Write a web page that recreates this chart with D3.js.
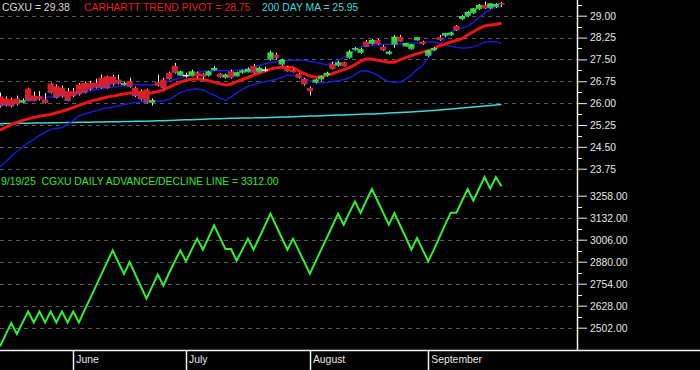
<!DOCTYPE html>
<html><head><meta charset="utf-8">
<script src="https://cdn.jsdelivr.net/npm/d3@7"></script>
<style>html,body{margin:0;padding:0;background:#000;}svg{display:block;}</style>
</head><body>
<script>
// ---------- DATA ----------
const symbol = "CGXU";
const lastClose = 29.38;
const pivotLast = 28.75;
const maLast = 25.95;
const adLast = 3312.00;
const adDate = "9/19/25";

const months = ["June", "July", "August", "September"];
const monthStartIdx = [13, 33, 55, 76];

const priceTicks = [29.00, 28.25, 27.50, 26.75, 26.00, 25.25, 24.50, 23.75];
const adTicks = [3258, 3132, 3006, 2880, 2754, 2628, 2502];

const open = [26.23,26.16,26.13,26.16,26.01,26.50,26.26,26.24,26.13,26.67,26.58,26.53,26.41,26.41,26.64,26.69,26.69,26.70,26.87,26.92,26.91,26.81,26.62,26.75,26.53,26.41,26.47,26.01,26.72,26.81,27.04,27.28,26.94,26.97,26.92,27.04,27.01,26.94,27.12,27.01,26.87,27.09,26.92,27.04,27.06,27.28,27.06,27.16,27.49,27.66,27.32,27.24,27.15,27.01,26.83,26.52,26.70,26.81,26.94,27.35,27.28,27.40,27.55,27.83,27.72,28.11,28.03,28.17,27.94,27.68,28.00,28.28,27.94,27.85,28.15,28.11,27.62,27.81,28.26,28.31,28.33,28.65,28.88,28.99,29.08,29.22,29.37,29.25,29.30,29.44];
const high = [26.36,26.23,26.19,26.26,26.16,26.53,26.40,26.41,26.35,26.70,26.64,26.60,26.52,26.52,26.69,26.74,26.77,26.84,26.98,26.94,26.98,26.98,26.74,26.87,26.57,26.47,26.50,26.16,26.98,26.87,27.08,27.38,27.11,27.05,27.15,27.08,27.04,27.11,27.28,27.04,27.01,27.15,27.08,27.15,27.22,27.35,27.25,27.25,27.80,27.73,27.52,27.28,27.18,27.04,26.87,26.57,26.84,26.94,27.08,27.42,27.45,27.42,27.83,27.93,27.90,28.17,28.20,28.20,28.00,27.80,28.34,28.34,28.07,28.03,28.27,28.14,27.83,27.93,28.34,28.41,28.44,28.68,29.02,29.16,29.26,29.40,29.48,29.43,29.43,29.47];
const low = [25.85,25.89,25.85,25.92,25.99,26.06,26.06,26.09,25.99,26.33,26.16,26.19,26.06,26.21,26.26,26.33,26.43,26.50,26.50,26.50,26.60,26.64,26.60,26.53,26.21,26.09,25.99,25.92,26.57,26.50,26.81,27.01,26.93,26.87,26.91,26.87,26.81,26.91,27.11,26.87,26.84,26.84,26.91,27.01,27.05,27.01,27.05,27.08,27.45,27.49,27.28,27.08,27.05,26.84,26.60,26.26,26.67,26.77,26.91,27.15,27.25,27.25,27.52,27.80,27.69,27.93,28.00,28.00,27.79,27.66,27.90,28.10,27.93,27.83,28.14,28.00,27.59,27.79,28.14,28.27,28.31,28.48,28.85,28.96,29.06,29.19,29.23,29.23,29.26,29.30];
const close = [25.89,25.92,25.89,25.96,26.10,26.07,26.07,26.13,26.01,26.35,26.18,26.23,26.07,26.24,26.30,26.35,26.47,26.53,26.52,26.52,26.64,26.67,26.69,26.56,26.24,26.13,26.01,26.10,26.60,26.52,26.83,27.04,27.09,26.95,27.09,26.92,26.91,27.09,27.21,26.90,26.98,26.87,27.06,27.12,27.17,27.04,27.21,27.14,27.74,27.55,27.49,27.09,27.06,26.87,26.64,26.41,26.81,26.92,27.04,27.17,27.40,27.26,27.77,27.89,27.85,27.94,28.17,28.03,27.81,27.77,28.28,28.11,28.06,28.02,28.26,28.03,27.81,27.89,28.17,28.40,28.42,28.49,28.99,29.13,29.25,29.37,29.25,29.42,29.40,29.38];

const pivot = [25.07,25.17,25.26,25.34,25.41,25.46,25.51,25.55,25.58,25.61,25.67,25.72,25.78,25.85,25.92,25.99,26.06,26.11,26.16,26.21,26.24,26.28,26.31,26.35,26.35,26.35,26.35,26.36,26.40,26.45,26.55,26.64,26.72,26.79,26.82,26.84,26.81,26.77,26.72,26.67,26.62,26.65,26.74,26.81,26.88,26.96,27.03,27.10,27.17,27.21,27.23,27.24,27.22,27.11,27.01,26.93,26.89,26.91,26.96,27.01,27.08,27.15,27.22,27.32,27.44,27.51,27.51,27.47,27.44,27.40,27.40,27.49,27.56,27.63,27.69,27.75,27.80,27.86,27.97,28.03,28.10,28.15,28.21,28.34,28.45,28.56,28.65,28.68,28.70,28.75];

const bandSlow = [25.92,25.94,25.97,26.02,26.07,26.10,26.13,26.16,26.19,26.21,26.25,26.29,26.32,26.35,26.37,26.40,26.43,26.46,26.49,26.52,26.55,26.57,26.60,26.62,26.64,26.63,26.62,26.62,26.64,26.67,26.76,26.81,26.86,26.93,26.99,27.05,27.09,27.10,27.11,27.11,27.11,27.11,27.13,27.15,27.19,27.23,27.29,27.35,27.39,27.42,27.45,27.46,27.47,27.47,27.46,27.44,27.40,27.36,27.32,27.39,27.46,27.57,27.69,27.81,27.92,27.95,27.98,28.00,28.02,28.02,28.03,28.04,28.05,28.06,28.07,28.09,28.10,28.10,28.05,28.00,27.95,27.92,27.89,27.90,27.93,28.00,28.09,28.11,28.11,28.05];

const bandFast = [23.81,23.98,24.18,24.35,24.49,24.64,24.76,24.89,25.00,25.10,25.13,25.16,25.27,25.41,25.55,25.63,25.68,25.74,25.79,25.83,25.87,25.90,25.95,25.99,26.02,26.05,26.06,26.07,26.07,26.07,26.13,26.24,26.36,26.43,26.47,26.49,26.45,26.36,26.28,26.18,26.09,26.21,26.35,26.47,26.57,26.64,26.69,26.73,26.77,26.82,26.89,26.96,26.96,26.91,26.85,26.77,26.70,26.70,26.71,26.74,26.77,26.81,26.86,26.98,27.10,27.11,27.05,26.96,26.82,26.74,26.72,26.72,26.82,26.96,27.15,27.30,27.57,27.80,27.98,28.25,28.44,28.53,28.58,28.64,28.77,28.94,29.09,29.21,29.30,29.30];

const ma200 = [25.296,25.300,25.303,25.307,25.307,25.310,25.314,25.317,25.320,25.324,25.327,25.331,25.334,25.338,25.341,25.344,25.348,25.351,25.355,25.358,25.361,25.365,25.368,25.372,25.375,25.378,25.382,25.385,25.392,25.399,25.406,25.413,25.419,25.426,25.433,25.440,25.447,25.453,25.460,25.467,25.474,25.481,25.484,25.487,25.491,25.494,25.498,25.501,25.508,25.515,25.521,25.528,25.535,25.542,25.549,25.555,25.562,25.569,25.576,25.583,25.590,25.596,25.603,25.610,25.617,25.624,25.630,25.637,25.648,25.658,25.668,25.678,25.689,25.699,25.709,25.723,25.736,25.750,25.767,25.784,25.801,25.818,25.835,25.852,25.869,25.886,25.903,25.920,25.938,25.950];

const adLine = [2395,2462,2529,2466,2531,2595,2532,2595,2532,2595,2532,2595,2532,2595,2532,2601,2670,2739,2807,2876,2945,2877,2810,2878,2808,2738,2668,2737,2806,2743,2815,2880,2945,2882,2949,3012,2949,3017,3088,3020,2953,2953,2886,2949,3012,2949,3017,3086,3155,3086,3017,2949,3012,2945,2878,2811,2880,2949,3017,3086,3155,3092,3161,3225,3159,3229,3296,3229,3161,3092,3159,3089,3020,2949,3016,2949,2882,2949,3020,3092,3161,3161,3229,3296,3229,3298,3365,3298,3365,3312];

// ---------- LAYOUT ----------
const W = 700, H = 370;
const axisX = 577, bottomY = 350;

const svg = d3.select("body").append("svg").attr("width", W).attr("height", H)
  .style("background", "#000").style("font-family", "'Liberation Sans', Arial, sans-serif");

const x = d3.scaleLinear().domain([0, 102.4]).range([0, axisX]);
const yP = d3.scaleLinear().domain([23.75, 29.00]).range([168.7, 15.7]);
const yA = d3.scaleLinear().domain([2502, 3258]).range([327.7, 195.7]);

// gradients
const defs = svg.append("defs");
const gR = defs.append("linearGradient").attr("id", "gRed").attr("x1", 0).attr("y1", 0).attr("x2", 0).attr("y2", 1);
gR.append("stop").attr("offset", "0%").attr("stop-color", "#e81c1c");
gR.append("stop").attr("offset", "65%").attr("stop-color", "#d02030");
gR.append("stop").attr("offset", "100%").attr("stop-color", "#94388a");
const gG = defs.append("linearGradient").attr("id", "gGreen").attr("x1", 0).attr("y1", 0).attr("x2", 0).attr("y2", 1);
gG.append("stop").attr("offset", "0%").attr("stop-color", "#3aec3a");
gG.append("stop").attr("offset", "65%").attr("stop-color", "#2ad040");
gG.append("stop").attr("offset", "100%").attr("stop-color", "#4a8a90");

// grid lines
const gridColor = "#5a5a5a";
svg.append("g").selectAll("line").data(priceTicks).join("line")
  .attr("x1", 0).attr("x2", axisX).attr("y1", d => Math.round(yP(d)) + 0.5).attr("y2", d => Math.round(yP(d)) + 0.5)
  .attr("stroke", gridColor).attr("stroke-width", 1).attr("stroke-dasharray", "4,4");
svg.append("g").selectAll("line").data(adTicks).join("line")
  .attr("x1", 0).attr("x2", axisX).attr("y1", d => Math.round(yA(d)) + 0.5).attr("y2", d => Math.round(yA(d)) + 0.5)
  .attr("stroke", gridColor).attr("stroke-width", 1).attr("stroke-dasharray", "4,4");

// indicator lines
const mkLine = (ys) => d3.line().x((d, i) => x(i)).y(d => ys(d));
svg.append("path").datum(ma200).attr("d", mkLine(yP)).attr("fill", "none").attr("stroke", "#3fd8d8").attr("stroke-width", 1.5);
svg.append("path").datum(bandSlow).attr("d", mkLine(yP)).attr("fill", "none").attr("stroke", "#1a1ad0").attr("stroke-width", 1.5);
svg.append("path").datum(bandFast).attr("d", mkLine(yP)).attr("fill", "none").attr("stroke", "#1a1ad0").attr("stroke-width", 1.5);
svg.append("path").datum(pivot).attr("d", mkLine(yP)).attr("fill", "none").attr("stroke", "#f01414").attr("stroke-width", 3);

// candles
const bw = 6.2;
const candles = open.map((o, i) => ({ i, o, h: high[i], l: low[i], c: close[i] }));
const cg = svg.append("g");
cg.selectAll("line").data(candles).join("line")
  .attr("x1", d => Math.round(x(d.i)) + 0.5).attr("x2", d => Math.round(x(d.i)) + 0.5)
  .attr("y1", d => yP(d.h)).attr("y2", d => yP(d.l))
  .attr("stroke", "#e8e8e8").attr("stroke-width", 1);
cg.selectAll("rect").data(candles).join("rect")
  .attr("x", d => x(d.i) - bw / 2)
  .attr("y", d => yP(Math.max(d.o, d.c)))
  .attr("width", bw)
  .attr("height", d => Math.max(1.5, Math.abs(yP(d.o) - yP(d.c))))
  .attr("fill", d => Math.abs(d.o - d.c) < 0.03 ? "#e8e8e8" : (d.c >= d.o ? "url(#gGreen)" : "url(#gRed)"));

// A/D line
svg.append("path").datum(adLine).attr("d", mkLine(yA)).attr("fill", "none")
  .attr("stroke", "#33ee33").attr("stroke-width", 2).attr("stroke-linejoin", "miter");

// right axis
const axisColor = "#f0f0f0";
svg.append("line").attr("x1", axisX + 0.5).attr("x2", axisX + 0.5).attr("y1", 0).attr("y2", bottomY).attr("stroke", axisColor).attr("stroke-width", 1.5);
svg.append("line").attr("x1", 0).attr("x2", W).attr("y1", bottomY + 0.5).attr("y2", bottomY + 0.5).attr("stroke", axisColor).attr("stroke-width", 1.5);

const priceAxis = d3.axisRight(yP).tickValues(priceTicks).tickFormat(d3.format(".2f")).tickSize(10).tickPadding(3);
const pa = svg.append("g").attr("transform", `translate(${axisX},0)`).call(priceAxis);
const adAxis = d3.axisRight(yA).tickValues(adTicks).tickFormat(d3.format(".2f")).tickSize(10).tickPadding(3);
const aa = svg.append("g").attr("transform", `translate(${axisX},0)`).call(adAxis);
[pa, aa].forEach(g => {
  g.select(".domain").remove();
  g.selectAll("line").attr("stroke", axisColor);
  g.selectAll("text").attr("fill", "#e4e4e4").style("font-size", "10.4px").style("font-family", "'Liberation Sans', Arial, sans-serif");
});
// minor ticks
const priceMinor = [priceTicks[0] + 0.375].concat(priceTicks.slice(0, -1).map(d => d - 0.375));
const adMinor = adTicks.slice(0, -1).map(d => d - 63);
svg.append("g").selectAll("line").data(priceMinor.map(yP).concat(adMinor.map(yA))).join("line")
  .attr("x1", axisX).attr("x2", axisX + 5).attr("y1", d => Math.round(d) + 0.5).attr("y2", d => Math.round(d) + 0.5)
  .attr("stroke", axisColor);

// month separators & labels
const mg = svg.append("g");
mg.selectAll("line").data(monthStartIdx).join("line")
  .attr("x1", d => Math.round(x(d)) + 0.5).attr("x2", d => Math.round(x(d)) + 0.5)
  .attr("y1", bottomY).attr("y2", H).attr("stroke", axisColor).attr("stroke-width", 1.5);
mg.selectAll("text").data(monthStartIdx).join("text")
  .attr("x", d => x(d) + 3).attr("y", 363)
  .attr("fill", "#e4e4e4").style("font-size", "10.4px")
  .text((d, i) => months[i]);

// legends
const leg = svg.append("text").attr("x", 2).attr("y", 11).style("font-size", "10.4px");
leg.append("tspan").attr("fill", "#d8d8d8").text(`${symbol} = ${lastClose.toFixed(2)}`);
leg.append("tspan").attr("x", 84).attr("fill", "#e81c1c").text(`CARHARTT TREND PIVOT = ${pivotLast.toFixed(2)}`);
leg.append("tspan").attr("x", 262).attr("fill", "#3fd8d8").text(`200 DAY MA = ${maLast.toFixed(2)}`);

svg.append("text").attr("x", 1).attr("y", 185).style("font-size", "10.4px").attr("fill", "#33e633")
  .attr("xml:space", "preserve").style("white-space", "pre")
  .text(`${adDate}  ${symbol} DAILY ADVANCE/DECLINE LINE = ${adLast.toFixed(2)}`);
</script>
</body></html>
